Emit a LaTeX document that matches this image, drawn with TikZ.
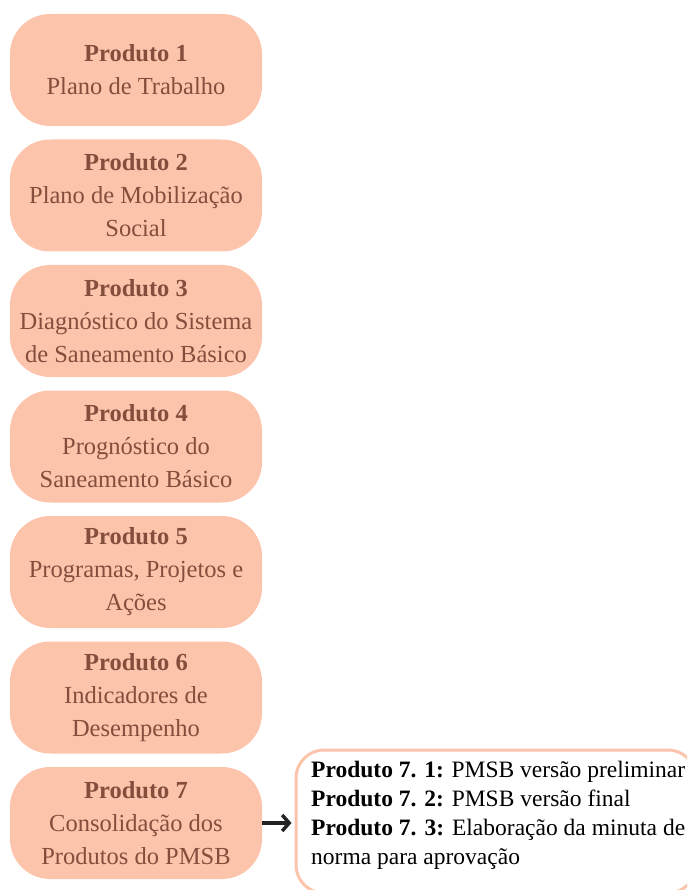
\documentclass[tikz,border=0pt]{standalone}
\usepackage{fontspec}
\setmainfont{Liberation Serif}
\usetikzlibrary{arrows.meta}
\definecolor{salmao}{RGB}{253,196,172}
\definecolor{marrom}{RGB}{131,78,60}
\definecolor{seta}{RGB}{35,35,35}
\begin{document}
\begin{tikzpicture}[x=1pt, y=-1pt,
    produto/.style={rectangle, rounded corners=40pt, fill=salmao, text=marrom, minimum width=252pt, minimum height=112pt, align=center, inner sep=0pt, font=\fontsize{24.5}{33}\selectfont},
    moldura/.style={rectangle, rounded corners=28pt, draw=salmao, line width=3pt, fill=white, minimum width=400pt, minimum height=143pt},
    lista/.style={text width=374pt, align=justify, inner sep=0pt, font=\fontsize{23.5}{29}\selectfont}]
                \useasboundingbox (0,0) rectangle (687,890);
                \clip (0,0) rectangle (687,890);
                % Nodes
                \node[produto] at (136, 70.0)  (p1)    {\textbf{Produto 1}\\Plano de Trabalho};
                \node[produto] at (136, 195.5) (p2)    {\textbf{Produto 2}\\Plano de Mobilização\\Social};
                \node[produto] at (136, 321.0) (p3)    {\textbf{Produto 3}\\Diagnóstico do Sistema\\de Saneamento Básico};
                \node[produto] at (136, 446.5) (p4)    {\textbf{Produto 4}\\Prognóstico do\\Saneamento Básico};
                \node[produto] at (136, 572.0) (p5)    {\textbf{Produto 5}\\Programas, Projetos e\\Ações};
                \node[produto] at (136, 697.5) (p6)    {\textbf{Produto 6}\\Indicadores de\\Desempenho};
                \node[produto] at (136, 823.0) (p7)    {\textbf{Produto 7}\\Consolidação dos\\Produtos do PMSB};

                \node[moldura] at (496, 821.5) (sub)   {};
                \node[lista, anchor=north west] at (311, 761) (itens)
                    {\textbf{Produto 7. 1:} PMSB versão preliminar\\
                     \textbf{Produto 7. 2:} PMSB versão final\\
                     \textbf{Produto 7. 3:} Elaboração da minuta de norma para aprovação};

                \draw[seta, line width=3.5pt, -{Straight Barb[length=7pt, width=16pt]}, shorten >=3pt]  (p7.east) -- (p7.east -| sub.west);
            \end{tikzpicture}
\end{document}
